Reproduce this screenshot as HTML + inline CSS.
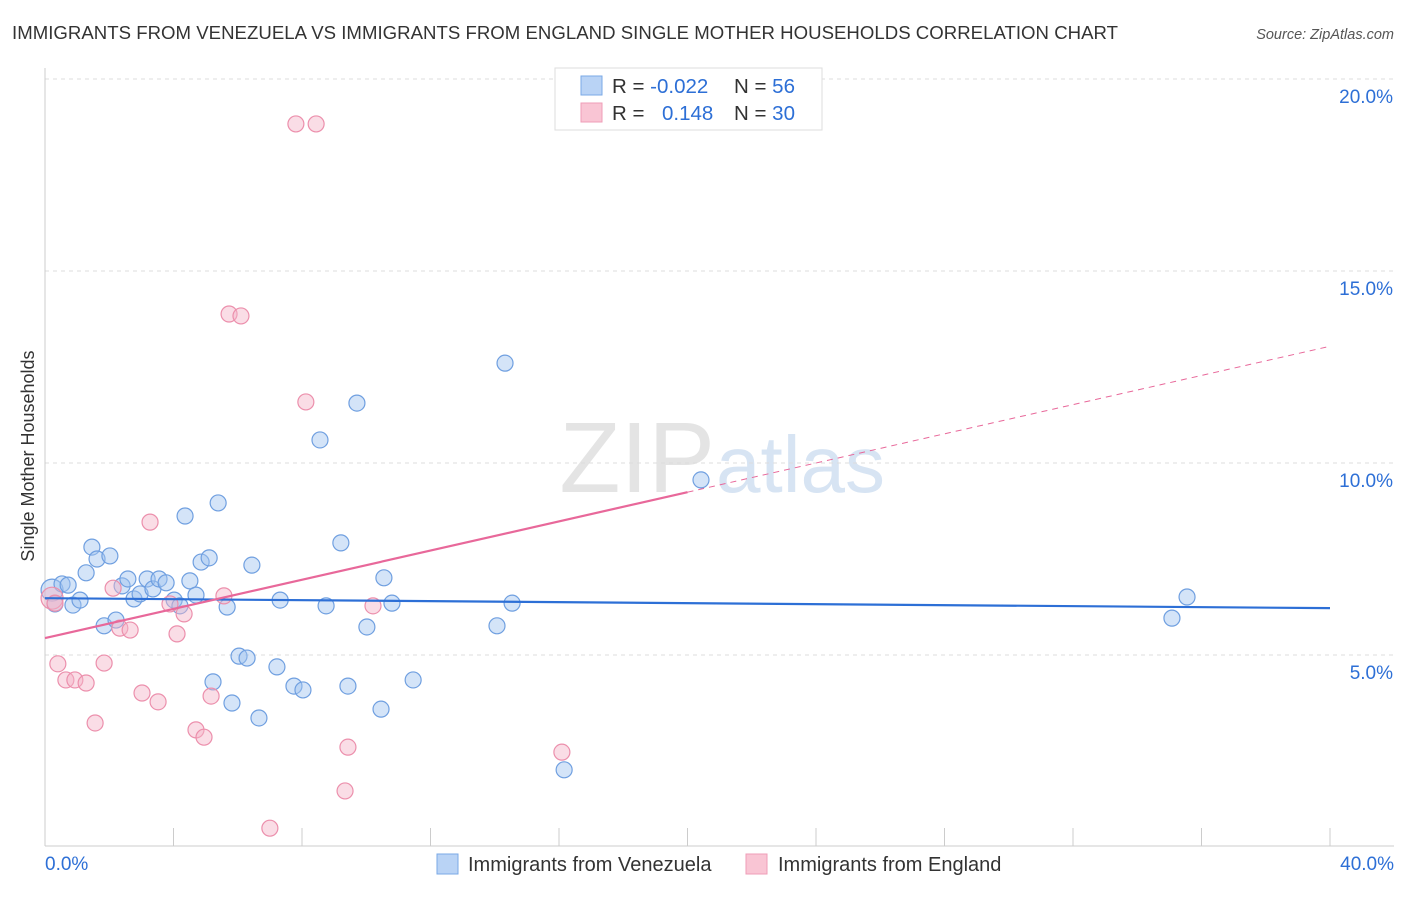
<!DOCTYPE html>
<html><head><meta charset="utf-8"><style>
body{margin:0;background:#fff;font-family:"Liberation Sans",sans-serif}
svg text{font-family:"Liberation Sans",sans-serif}
</style></head><body>
<svg id="c" width="1406" height="892">
<text x="12" y="39" font-size="18.6" fill="#333" textLength="1106">IMMIGRANTS FROM VENEZUELA VS IMMIGRANTS FROM ENGLAND SINGLE MOTHER HOUSEHOLDS CORRELATION CHART</text>
<text x="1394" y="39" font-size="14.5" fill="#555" font-style="italic" text-anchor="end">Source: ZipAtlas.com</text>
<text x="715" y="492" font-size="100" fill="#e4e4e4" text-anchor="end" font-family="Liberation Serif">ZIP</text>
<text x="716" y="492" font-size="80" fill="#d7e4f3">atlas</text>
<text transform="translate(34,456) rotate(-90)" font-size="18" fill="#333" text-anchor="middle">Single Mother Households</text>
<g id="grid"></g><g id="marks"></g>
<rect x="555" y="68" width="267" height="62" fill="#fff" stroke="#ddd"/>
<rect x="581" y="76" width="21" height="19" fill="#b9d3f5" stroke="#7aa8e6"/>
<rect x="581" y="103" width="21" height="19" fill="#f9c5d4" stroke="#ef9db7"/>
<text x="612" y="93" font-size="20.5" fill="#333">R = <tspan fill="#2d6fd6">-0.022</tspan><tspan x="734">N = </tspan><tspan fill="#2d6fd6">56</tspan></text>
<text x="612" y="120" font-size="20.5" fill="#333">R = <tspan x="662" fill="#2d6fd6">0.148</tspan><tspan x="734">N = </tspan><tspan fill="#2d6fd6">30</tspan></text>
<rect x="437" y="854" width="21" height="20" fill="#b9d3f5" stroke="#7aa8e6"/>
<text x="468" y="871" font-size="20" fill="#333">Immigrants from Venezuela</text>
<rect x="746" y="854" width="21" height="20" fill="#f9c5d4" stroke="#ef9db7"/>
<text x="778" y="871" font-size="20" fill="#333">Immigrants from England</text>
</svg>
<script>
const yTicks=[5,10,15,20];
const xTickLabels=["0.0%","40.0%"];
const blueX=[0.22,0.31,0.53,0.72,0.87,1.09,1.28,1.46,1.62,1.84,2.02,2.21,2.40,2.58,2.77,2.96,3.18,3.36,3.55,3.77,4.02,4.20,4.36,4.51,4.70,4.86,5.11,5.23,5.39,5.67,5.82,6.04,6.29,6.44,6.66,7.22,7.32,7.75,8.03,8.56,8.75,9.21,9.43,9.71,10.02,10.46,10.55,10.80,11.46,14.07,14.32,14.54,16.16,20.42,35.08,35.55];
const blueY=[6.69,6.33,6.85,6.82,6.30,6.43,7.14,7.81,7.50,5.76,7.58,5.91,6.80,6.98,6.46,6.59,6.98,6.72,6.98,6.88,6.43,6.28,8.62,6.93,6.56,7.42,7.53,4.30,8.96,6.25,3.75,4.97,4.92,7.34,3.36,4.69,6.43,4.19,4.09,10.60,6.28,7.92,4.19,11.56,5.73,3.59,7.01,6.35,4.35,5.76,12.60,6.35,2.01,9.56,5.96,6.51];
const pinkX=[0.22,0.31,0.40,0.65,0.93,1.28,1.56,1.84,2.12,2.33,2.65,3.02,3.27,3.52,3.89,4.11,4.33,4.70,4.95,5.17,5.57,5.73,6.10,7.00,7.81,8.12,8.44,9.34,9.43,10.21,16.09];
const pinkY=[6.48,6.35,4.77,4.35,4.35,4.27,3.23,4.79,6.74,5.70,5.65,4.01,8.46,3.78,6.33,5.55,6.07,3.05,2.86,3.93,6.54,13.88,13.83,0.49,18.83,11.59,18.83,1.46,2.60,6.28,2.47];
const blueTrend=[6.48,6.22];
const pinkTrend=[5.44,13.04];
const NS="http://www.w3.org/2000/svg";
const xs=v=>45+v/40*1285, ys=v=>847-v*38.4;
function mk(t,a,p){const e=document.createElementNS(NS,t);for(const k in a)e.setAttribute(k,a[k]);p.appendChild(e);return e;}
const g=document.getElementById('grid'),m=document.getElementById('marks');
yTicks.forEach(t=>{
 const l=mk('line',{x1:45,x2:1394,y1:ys(t),y2:ys(t),stroke:'#ddd','stroke-dasharray':'4,4'},g);
 
 
 const tx=mk('text',{x:1393,y:ys(t)+24,'font-size':19,fill:'#2d6fd6','text-anchor':'end'},g);tx.textContent=t.toFixed(1)+'%';
 
 
});
const ax=mk('line',{x1:45,x2:45,y1:68,y2:846,stroke:'#ccc'},g);


const bx=mk('line',{x1:45,x2:1394,y1:846,y2:846,stroke:'#ccc'},g);


for(let i=0;i<=10;i++){const tk=mk('line',{x1:xs(i*4),x2:xs(i*4),y1:828,y2:846,stroke:'#ccc'},g);
 
 }
[[0,'start',45],[40,'end',1394]].forEach((d,i)=>{const t=mk('text',{x:d[2],y:870,'font-size':19,fill:'#2d6fd6','text-anchor':d[1]},g);t.textContent=xTickLabels[i];
 
 });
blueX.forEach((x,i)=>{const c=mk('circle',{cx:xs(x),cy:ys(blueY[i]),r:i==0?11:8,fill:'rgba(160,195,240,0.45)',stroke:'#6f9fe0','stroke-width':1.2},m);
 
 });
pinkX.forEach((x,i)=>{const c=mk('circle',{cx:xs(x),cy:ys(pinkY[i]),r:i==0?11:8,fill:'rgba(245,180,200,0.45)',stroke:'#ec8fac','stroke-width':1.2},m);
 
 });
const bl=mk('line',{x1:xs(0),y1:ys(blueTrend[0]),x2:xs(40),y2:ys(blueTrend[1]),stroke:'#2d6fd6','stroke-width':2.2},m);


const pm=pinkTrend[0]+(pinkTrend[1]-pinkTrend[0])/2;
const pl=mk('line',{x1:xs(0),y1:ys(pinkTrend[0]),x2:xs(20),y2:ys(pm),stroke:'#e8689a','stroke-width':2.2},m);


const pd=mk('line',{x1:xs(20),y1:ys(pm),x2:xs(40),y2:ys(pinkTrend[1]),stroke:'#e8689a','stroke-width':1,'stroke-dasharray':'6,5'},m);


</script>
</body></html>
